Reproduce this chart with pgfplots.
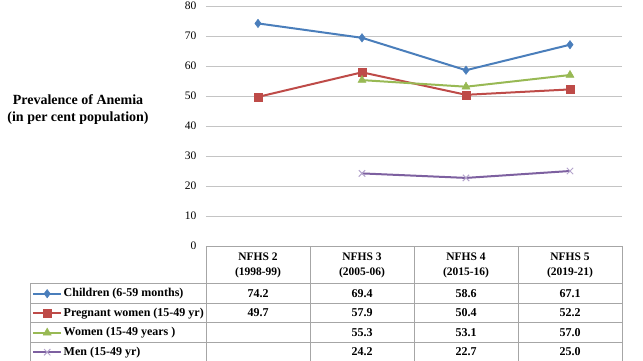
\documentclass[border=0pt]{standalone}
\usepackage{pgfplots}
\pgfplotsset{compat=1.18}
\usepackage{fontspec}
\setmainfont{Liberation Serif}
\definecolor{cBlue}{HTML}{4A7EBB}
\definecolor{cRed}{HTML}{BE4B48}
\definecolor{cGreen}{HTML}{98B954}
\definecolor{cPurple}{HTML}{7D60A0}
\definecolor{cPurpleL}{HTML}{B4A4CC}
\definecolor{gridc}{HTML}{C4C4C4}
\definecolor{tabc}{HTML}{A6A6A6}
\begin{document}
\begin{tikzpicture}
\useasboundingbox (0pt,0pt) rectangle (643pt,-360pt);
\begin{axis}[
  at={(206pt,-246pt)}, anchor=south west,
  scale only axis, width=416pt, height=240pt,
  xmin=-0.5, xmax=3.5, ymin=0, ymax=80,
  ytick={0,10,...,80}, xtick=\empty,
  ymajorgrids, grid style={gridc, line width=1pt},
  axis line style={draw=none},
  major tick length=0pt,
  yticklabel style={font=\fontsize{11.5}{13}\selectfont, /pgf/number format/assume math mode=true, xshift=-6pt},
  clip=false,
  legend cell align=left,
  legend style={at={(axis description cs:-0.4183,-0.1729)}, anchor=north west,
    draw=none, fill=none, inner sep=0pt, row sep=7.5pt,
    font=\bfseries\fontsize{12}{14}\selectfont,
    nodes={inner sep=0pt, text height=9pt, text depth=3pt},
    /tikz/every odd column/.append style={column sep=1.5pt}},
  legend image code/.code={\draw[mark repeat=2,mark phase=2] plot coordinates {(0pt,0pt)(14pt,0pt)(28pt,0pt)};},
]
\addplot[cBlue, line width=2pt, mark=diamond*, mark size=4.2pt, mark options={solid, line width=0.5pt}]
  coordinates {(0,74.2) (1,69.4) (2,58.6) (3,67.1)};
\addlegendentry{Children (6-59 months)}
\addplot[cRed, line width=2pt, mark=square*, mark size=4pt, mark options={solid, line width=0.5pt}]
  coordinates {(0,49.7) (1,57.9) (2,50.4) (3,52.2)};
\addlegendentry{Pregnant women (15-49 yr)}
\addplot[cGreen, line width=2pt, mark=triangle*, mark size=4.6pt, mark options={solid, line width=0.5pt}]
  coordinates {(1,55.3) (2,53.1) (3,57.0)};
\addlegendentry{Women (15-49 years )}
\addplot[cPurple, line width=2pt, mark=x, mark size=4.5pt, mark options={solid, draw=cPurpleL, line width=1pt}]
  coordinates {(1,24.2) (2,22.7) (3,25.0)};
\addlegendentry{Men (15-49 yr)}
\end{axis}
% data table frame
\begin{scope}[tabc, line width=0.8pt]
\draw (206pt,-246pt) -- (622pt,-246pt);
\foreach \x in {206,310,414,518,622} \draw (\x pt,-246pt) -- (\x pt,-362pt);
\draw (30pt,-283pt) -- (30pt,-362pt);
\foreach \y in {283,303,322.5,342} \draw (30pt,-\y pt) -- (622pt,-\y pt);
\end{scope}
% y label
\node[align=center, font=\bfseries\fontsize{14}{17}\selectfont] at (78pt,-110pt) {Prevalence of Anemia\\(in per cent population)};
% headers
\foreach \x/\a/\b in {258/2/1998-99, 362/3/2005-06, 466/4/2015-16, 570/5/2019-21}
  \node[align=center, font=\bfseries\fontsize{11.5}{15}\selectfont] at (\x pt,-265pt) {NFHS \a\\(\b)};
% values
\foreach \x/\v in {258/74.2, 362/69.4, 466/58.6, 570/67.1}
  \node[anchor=base, inner sep=0pt, font=\bfseries\fontsize{12}{14}\selectfont] at (\x pt,-297pt) {\v};
\foreach \x/\v in {258/49.7, 362/57.9, 466/50.4, 570/52.2}
  \node[anchor=base, inner sep=0pt, font=\bfseries\fontsize{12}{14}\selectfont] at (\x pt,-316.5pt) {\v};
\foreach \x/\v in {362/55.3, 466/53.1, 570/57.0}
  \node[anchor=base, inner sep=0pt, font=\bfseries\fontsize{12}{14}\selectfont] at (\x pt,-336pt) {\v};
\foreach \x/\v in {362/24.2, 466/22.7, 570/25.0}
  \node[anchor=base, inner sep=0pt, font=\bfseries\fontsize{12}{14}\selectfont] at (\x pt,-355pt) {\v};
\end{tikzpicture}
\end{document}
